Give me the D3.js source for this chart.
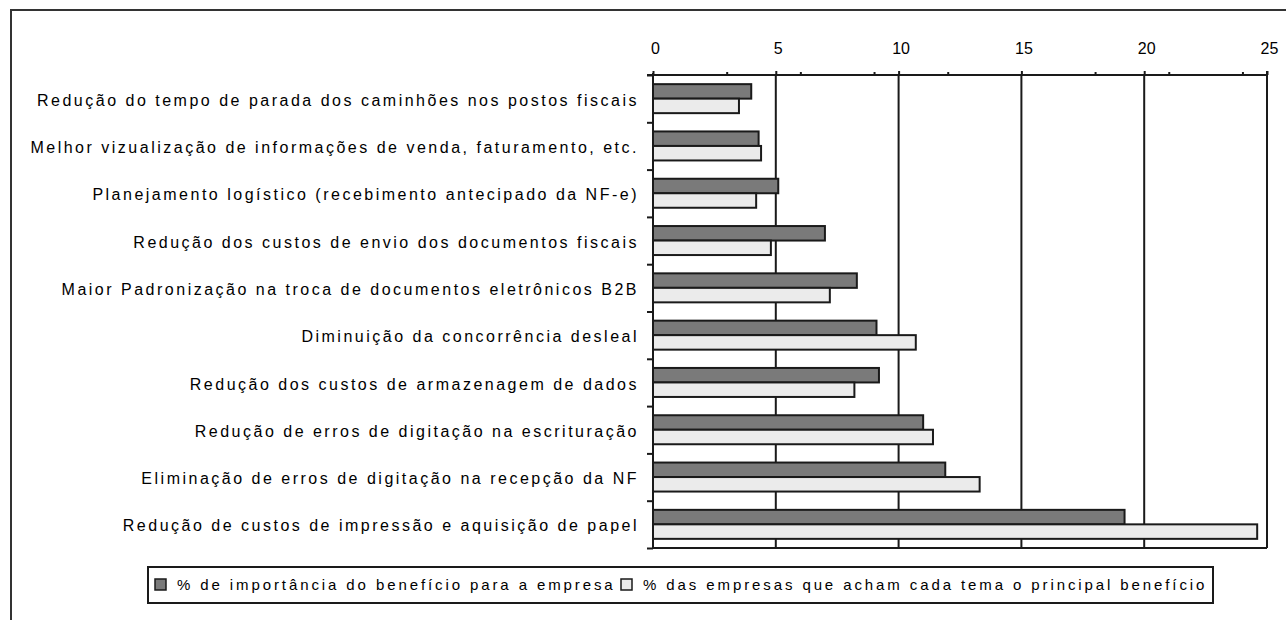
<!DOCTYPE html>
<html>
<head>
<meta charset="utf-8">
<script src="https://cdn.jsdelivr.net/npm/d3@7"></script>
<style>
  body { margin: 0; background: #fff; }
  svg { display: block; font-family: "Liberation Sans", Arial, sans-serif; }
  .cat text { font-size: 16px; letter-spacing: 2.5px; fill: #000; }
  .xtop text { font-size: 16px; fill: #000; }
  .legend text { font-size: 15px; letter-spacing: 2.9px; fill: #000; }
</style>
</head>
<body>
<svg width="1286" height="620"></svg>
<script>
// categorias (de cima para baixo)
const categories = [
  "Redução do tempo de parada dos caminhões nos postos fiscais",
  "Melhor vizualização de informações de venda, faturamento, etc.",
  "Planejamento logístico (recebimento antecipado da NF-e)",
  "Redução dos custos de envio dos documentos fiscais",
  "Maior Padronização na troca de documentos eletrônicos B2B",
  "Diminuição da concorrência desleal",
  "Redução dos custos de armazenagem de dados",
  "Redução de erros de digitação na escrituração",
  "Eliminação de erros de digitação na recepção da NF",
  "Redução de custos de impressão e aquisição de papel"
];
// % de importância do benefício para a empresa
const importancia = [4.0, 4.3, 5.1, 7.0, 8.3, 9.1, 9.2, 11.0, 11.9, 19.2];
// % das empresas que acham cada tema o principal benefício
const principal = [3.5, 4.4, 4.2, 4.8, 7.2, 10.7, 8.2, 11.4, 13.3, 24.6];

const seriesNames = [
  "% de importância do benefício para a empresa",
  "% das empresas que acham cada tema o principal benefício"
];
const seriesColors = ["#7a7a7a", "#ebebeb"];

const majorTicks = [0, 5, 10, 15, 20, 25];
const minorTicks = [3, 6, 9, 12, 18, 21, 24];

var svg = d3.select("svg");

// moldura externa (cortada pela janela)
svg.append("rect")
  .attr("x", 11).attr("y", 10)
  .attr("width", 1400).attr("height", 800)
  .attr("fill", "none").attr("stroke", "#333").attr("stroke-width", 2);

const pLeft = 653, pRight = 1267, pTop = 75, pBottom = 548;

var x = d3.scaleLinear().domain([0, 25]).range([pLeft, pRight]);
var y = d3.scaleBand().domain(categories).range([pTop, pBottom]);
var yEdge = d3.scaleLinear().domain([0, categories.length]).range([pTop, pBottom]);

const g = svg.append("g");

// linhas de grade verticais
g.selectAll("line.grid")
  .data(majorTicks.slice(1))
  .enter().append("line")
    .attr("class", "grid")
    .attr("x1", d => x(d)).attr("x2", d => x(d))
    .attr("y1", pTop).attr("y2", pBottom)
    .attr("stroke", "#1a1a1a").attr("stroke-width", 2);

// linha inferior da área
g.append("line")
  .attr("x1", pLeft).attr("x2", pRight)
  .attr("y1", pBottom).attr("y2", pBottom)
  .attr("stroke", "#1a1a1a").attr("stroke-width", 2);

// barras
const barH = 14.5;
const offset = (y.bandwidth() - 2 * barH) / 2;
[importancia, principal].forEach((vals, s) => {
  g.selectAll("rect.s" + s)
    .data(vals)
    .enter().append("rect")
      .attr("class", "s" + s)
      .attr("x", x(0))
      .attr("y", (d, i) => y(categories[i]) + offset + s * barH)
      .attr("width", d => x(d) - x(0))
      .attr("height", barH)
      .attr("fill", seriesColors[s])
      .attr("stroke", "#1a1a1a").attr("stroke-width", 2);
});

// eixo superior
const xAxis = g.append("g")
  .attr("class", "xtop")
  .attr("transform", `translate(0,${pTop})`)
  .call(d3.axisTop(x).tickValues(majorTicks).tickSize(4).tickPadding(17).tickSizeOuter(0).tickFormat(d3.format("d")));
xAxis.select(".domain").attr("stroke", "#1a1a1a").attr("stroke-width", 2)
  .attr("d", `M${pLeft - 6},0H${pRight}`);
xAxis.selectAll(".tick line").attr("stroke", "#1a1a1a").attr("stroke-width", 2);
xAxis.selectAll(".tick text").attr("dx", 2);

g.append("g")
  .attr("transform", `translate(0,${pTop})`)
  .call(d3.axisTop(x).tickValues(minorTicks).tickSize(3).tickFormat(""))
  .call(a => a.select(".domain").remove())
  .selectAll(".tick line").attr("stroke", "#1a1a1a").attr("stroke-width", 2);

// eixo esquerdo: marcas nas divisas das categorias
const yTicks = g.append("g")
  .attr("transform", `translate(${pLeft},0)`)
  .call(d3.axisLeft(yEdge).tickValues(d3.range(categories.length + 1)).tickSize(6).tickSizeOuter(0).tickFormat(""));
yTicks.select(".domain").attr("stroke", "#1a1a1a").attr("stroke-width", 2)
  .attr("d", `M0,${pTop - 2}V${pBottom + 1}`);
yTicks.selectAll(".tick line").attr("stroke", "#1a1a1a").attr("stroke-width", 2);

// rótulos das categorias
g.append("g")
  .attr("class", "cat")
  .attr("transform", `translate(${pLeft},2)`)
  .call(d3.axisLeft(y).tickSize(0).tickPadding(14))
  .call(a => a.select(".domain").remove());

// borda direita
g.append("line")
  .attr("x1", pRight).attr("x2", pRight)
  .attr("y1", pTop - 4).attr("y2", pBottom)
  .attr("stroke", "#1a1a1a").attr("stroke-width", 2);

// legenda
const legend = svg.append("g").attr("class", "legend");
legend.append("rect")
  .attr("x", 148).attr("y", 567).attr("width", 1065).attr("height", 36)
  .attr("fill", "none").attr("stroke", "#1a1a1a").attr("stroke-width", 2);
const legX = [155, 621];
seriesNames.forEach((name, i) => {
  legend.append("rect")
    .attr("x", legX[i]).attr("y", 579).attr("width", 11).attr("height", 11)
    .attr("fill", seriesColors[i]).attr("stroke", "#1a1a1a").attr("stroke-width", 1.5);
  legend.append("text")
    .attr("x", legX[i] + 22).attr("y", 590)
    .text(name);
});
</script>
</body>
</html>
